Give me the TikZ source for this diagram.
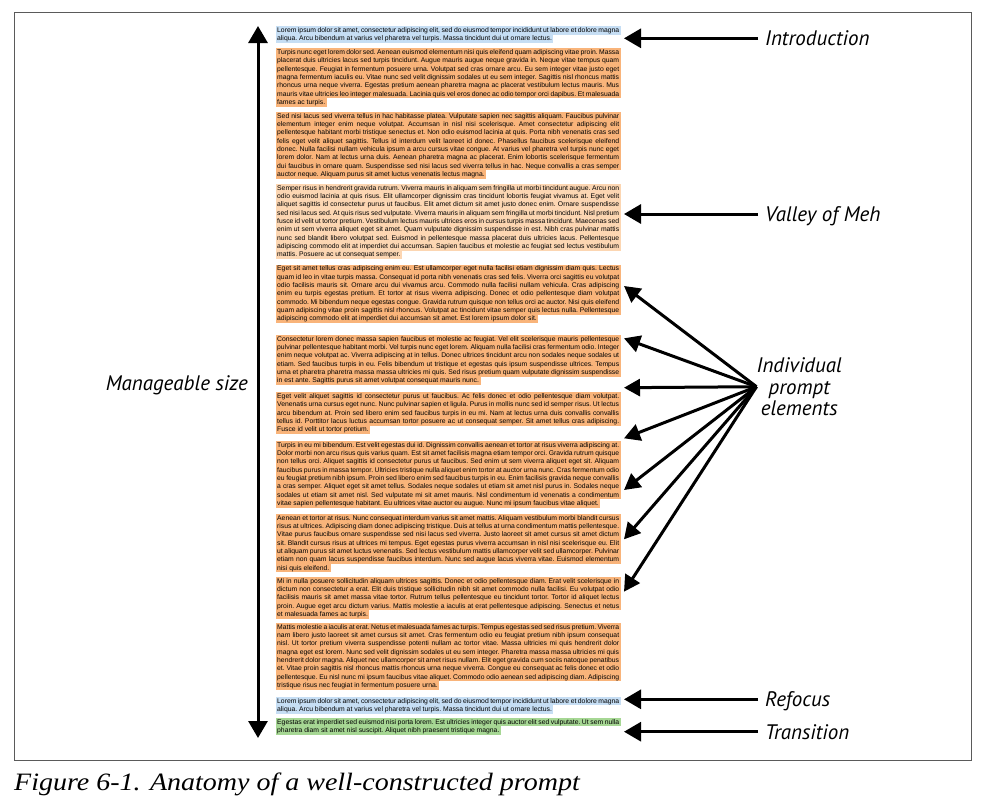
\documentclass[tikz,border=0pt]{standalone}
\usepackage{fontspec}
\setsansfont{Liberation Sans}
\newfontfamily\lblfont{PT Sans}
\newfontfamily\capfont[FakeStretch=1.12]{Liberation Serif}
\usetikzlibrary{arrows.meta,positioning}

\definecolor{hlblue}{RGB}{198,222,244}
\definecolor{hlorange}{RGB}{249,180,122}
\definecolor{hlpeach}{RGB}{252,214,178}
\definecolor{hlgreen}{RGB}{166,215,148}
\definecolor{framegray}{RGB}{90,90,90}

% highlighted paragraph, one coloured bar per line
\newif\iflastline
\newdimen\hlw
\def\dolines#1{%
  \unskip\unpenalty\unskip\unpenalty
  \setbox2=\lastbox
  \ifvoid2 \prevdepth=-1000pt \else
    \iflastline \setbox4=\hbox{\unhcopy2}\hlw=\wd4 \else \hlw=\wd2 \fi
    \global\lastlinefalse
    \begingroup\dolines{#1}\endgroup
    \hbox{\rlap{\hskip-1.5pt\color{#1}\vrule height 6.1pt depth 2.2pt width \dimexpr\hlw+3pt\relax}\box2}%
  \fi}
\newcommand\hlpar[2]{%
  \setbox0=\vbox{\hsize=342pt\parindent=0pt\leftskip=0pt\rightskip=0pt
    \parfillskip=0pt plus 1fil\sffamily\fontsize{6.8}{8.3}\selectfont\frenchspacing
    \hyphenpenalty=10000\emergencystretch=20pt #2\par}%
  \vbox{\baselineskip=8.3pt\lineskip=0pt\lineskiplimit=0pt\global\lastlinetrue
    \unvbox0\dolines{#1}}}

\begin{document}
\begin{tikzpicture}[x=1pt,y=-1pt,
    blk/.style={anchor=north west,inner sep=0pt},
    lbl/.style={font=\lblfont\itshape\fontsize{21}{21.5}\selectfont,inner sep=0pt},
    tag/.style={lbl,anchor=west,inner xsep=7pt,text height=15pt,text depth=0pt},
    arr/.style={-{Triangle[length=17pt,width=19pt]},line width=3pt},
    arrboth/.style={{Triangle[length=17pt,width=19pt]}-{Triangle[length=17pt,width=19pt]},line width=3pt},
    fan/.style={-{Triangle[length=16pt,width=17pt]},line width=3pt}]
    \useasboundingbox (0,0) rectangle (994,804);
    \draw[framegray,line width=1pt] (14,12) rectangle (971,760); % frame

    % prompt text
    \node[blk] (b1) at (277,26) {\hlpar{hlblue}{Lorem ipsum dolor sit amet, consectetur adipiscing elit, sed do eiusmod tempor incididunt ut labore et dolore magna aliqua. Arcu bibendum at varius vel pharetra vel turpis. Massa tincidunt dui ut ornare lectus.}};
    \node[blk] (b2) at (277,48.2) {\hlpar{hlorange}{Turpis nunc eget lorem dolor sed. Aenean euismod elementum nisi quis eleifend quam adipiscing vitae proin. Massa placerat duis ultricies lacus sed turpis tincidunt. Augue mauris augue neque gravida in. Neque vitae tempus quam pellentesque. Feugiat in fermentum posuere urna. Volutpat sed cras ornare arcu. Eu sem integer vitae justo eget magna fermentum iaculis eu. Vitae nunc sed velit dignissim sodales ut eu sem integer. Sagittis nisl rhoncus mattis rhoncus urna neque viverra. Egestas pretium aenean pharetra magna ac placerat vestibulum lectus mauris. Mus mauris vitae ultricies leo integer malesuada. Lacinia quis vel eros donec ac odio tempor orci dapibus. Et malesuada fames ac turpis.}};
    \node[blk] (b3) at (277,111.9) {\hlpar{hlorange}{Sed nisi lacus sed viverra tellus in hac habitasse platea. Vulputate sapien nec sagittis aliquam. Faucibus pulvinar elementum integer enim neque volutpat. Accumsan in nisl nisi scelerisque. Amet consectetur adipiscing elit pellentesque habitant morbi tristique senectus et. Non odio euismod lacinia at quis. Porta nibh venenatis cras sed felis eget velit aliquet sagittis. Tellus id interdum velit laoreet id donec. Phasellus faucibus scelerisque eleifend donec. Nulla facilisi nullam vehicula ipsum a arcu cursus vitae congue. At varius vel pharetra vel turpis nunc eget lorem dolor. Nam at lectus urna duis. Aenean pharetra magna ac placerat. Enim lobortis scelerisque fermentum dui faucibus in ornare quam. Suspendisse sed nisi lacus sed viverra tellus in hac. Neque convallis a cras semper auctor neque. Aliquam purus sit amet luctus venenatis lectus magna.}};
    \node[blk] (b4) at (277,183.9) {\hlpar{hlpeach}{Semper risus in hendrerit gravida rutrum. Viverra mauris in aliquam sem fringilla ut morbi tincidunt augue. Arcu non odio euismod lacinia at quis risus. Elit ullamcorper dignissim cras tincidunt lobortis feugiat vivamus at. Eget velit aliquet sagittis id consectetur purus ut faucibus. Elit amet dictum sit amet justo donec enim. Ornare suspendisse sed nisi lacus sed. At quis risus sed vulputate. Viverra mauris in aliquam sem fringilla ut morbi tincidunt. Nisl pretium fusce id velit ut tortor pretium. Vestibulum lectus mauris ultrices eros in cursus turpis massa tincidunt. Maecenas sed enim ut sem viverra aliquet eget sit amet. Quam vulputate dignissim suspendisse in est. Nibh cras pulvinar mattis nunc sed blandit libero volutpat sed. Euismod in pellentesque massa placerat duis ultricies lacus. Pellentesque adipiscing commodo elit at imperdiet dui accumsan. Sapien faucibus et molestie ac feugiat sed lectus vestibulum mattis. Posuere ac ut consequat semper.}};
    \node[blk] (b5) at (277,264.6) {\hlpar{hlorange}{Eget sit amet tellus cras adipiscing enim eu. Est ullamcorper eget nulla facilisi etiam dignissim diam quis. Lectus quam id leo in vitae turpis massa. Consequat id porta nibh venenatis cras sed felis. Viverra orci sagittis eu volutpat odio facilisis mauris sit. Ornare arcu dui vivamus arcu. Commodo nulla facilisi nullam vehicula. Cras adipiscing enim eu turpis egestas pretium. Et tortor at risus viverra adipiscing. Donec et odio pellentesque diam volutpat commodo. Mi bibendum neque egestas congue. Gravida rutrum quisque non tellus orci ac auctor. Nisi quis eleifend quam adipiscing vitae proin sagittis nisl rhoncus. Volutpat ac tincidunt vitae semper quis lectus nulla. Pellentesque adipiscing commodo elit at imperdiet dui accumsan sit amet. Est lorem ipsum dolor sit.}};
    \node[blk] (b6) at (277,334.9) {\hlpar{hlorange}{Consectetur lorem donec massa sapien faucibus et molestie ac feugiat. Vel elit scelerisque mauris pellentesque pulvinar pellentesque habitant morbi. Vel turpis nunc eget lorem. Aliquam nulla facilisi cras fermentum odio. Integer enim neque volutpat ac. Viverra adipiscing at in tellus. Donec ultrices tincidunt arcu non sodales neque sodales ut etiam. Sed faucibus turpis in eu. Felis bibendum ut tristique et egestas quis ipsum suspendisse ultrices. Tempus urna et pharetra pharetra massa massa ultricies mi quis. Sed risus pretium quam vulputate dignissim suspendisse in est ante. Sagittis purus sit amet volutpat consequat mauris nunc.}};
    \node[blk] (b7) at (277,392.2) {\hlpar{hlorange}{Eget velit aliquet sagittis id consectetur purus ut faucibus. Ac felis donec et odio pellentesque diam volutpat. Venenatis urna cursus eget nunc. Nunc pulvinar sapien et ligula. Purus in mollis nunc sed id semper risus. Ut lectus arcu bibendum at. Proin sed libero enim sed faucibus turpis in eu mi. Nam at lectus urna duis convallis convallis tellus id. Porttitor lacus luctus accumsan tortor posuere ac ut consequat semper. Sit amet tellus cras adipiscing. Fusce id velit ut tortor pretium.}};
    \node[blk] (b8) at (277,440.9) {\hlpar{hlorange}{Turpis in eu mi bibendum. Est velit egestas dui id. Dignissim convallis aenean et tortor at risus viverra adipiscing at. Dolor morbi non arcu risus quis varius quam. Est sit amet facilisis magna etiam tempor orci. Gravida rutrum quisque non tellus orci. Aliquet sagittis id consectetur purus ut faucibus. Sed enim ut sem viverra aliquet eget sit. Aliquam faucibus purus in massa tempor. Ultricies tristique nulla aliquet enim tortor at auctor urna nunc. Cras fermentum odio eu feugiat pretium nibh ipsum. Proin sed libero enim sed faucibus turpis in eu. Enim facilisis gravida neque convallis a cras semper. Aliquet eget sit amet tellus. Sodales neque sodales ut etiam sit amet nisl purus in. Sodales neque sodales ut etiam sit amet nisl. Sed vulputate mi sit amet mauris. Nisl condimentum id venenatis a condimentum vitae sapien pellentesque habitant. Eu ultrices vitae auctor eu augue. Nunc mi ipsum faucibus vitae aliquet.}};
    \node[blk] (b9) at (277,513.9) {\hlpar{hlorange}{Aenean et tortor at risus. Nunc consequat interdum varius sit amet mattis. Aliquam vestibulum morbi blandit cursus risus at ultrices. Adipiscing diam donec adipiscing tristique. Duis at tellus at urna condimentum mattis pellentesque. Vitae purus faucibus ornare suspendisse sed nisi lacus sed viverra. Justo laoreet sit amet cursus sit amet dictum sit. Blandit cursus risus at ultrices mi tempus. Eget egestas purus viverra accumsan in nisl nisi scelerisque eu. Elit ut aliquam purus sit amet luctus venenatis. Sed lectus vestibulum mattis ullamcorper velit sed ullamcorper. Pulvinar etiam non quam lacus suspendisse faucibus interdum. Nunc sed augue lacus viverra vitae. Euismod elementum nisi quis eleifend.}};
    \node[blk] (b10) at (277,576.9) {\hlpar{hlorange}{Mi in nulla posuere sollicitudin aliquam ultrices sagittis. Donec et odio pellentesque diam. Erat velit scelerisque in dictum non consectetur a erat. Elit duis tristique sollicitudin nibh sit amet commodo nulla facilisi. Eu volutpat odio facilisis mauris sit amet massa vitae tortor. Rutrum tellus pellentesque eu tincidunt tortor. Tortor id aliquet lectus proin. Augue eget arcu dictum varius. Mattis molestie a iaculis at erat pellentesque adipiscing. Senectus et netus et malesuada fames ac turpis.}};
    \node[blk] (b11) at (277,622.9) {\hlpar{hlorange}{Mattis molestie a iaculis at erat. Netus et malesuada fames ac turpis. Tempus egestas sed sed risus pretium. Viverra nam libero justo laoreet sit amet cursus sit amet. Cras fermentum odio eu feugiat pretium nibh ipsum consequat nisl. Ut tortor pretium viverra suspendisse potenti nullam ac tortor vitae. Massa ultricies mi quis hendrerit dolor magna eget est lorem. Nunc sed velit dignissim sodales ut eu sem integer. Pharetra massa massa ultricies mi quis hendrerit dolor magna. Aliquet nec ullamcorper sit amet risus nullam. Elit eget gravida cum sociis natoque penatibus et. Vitae proin sagittis nisl rhoncus mattis rhoncus urna neque viverra. Congue eu consequat ac felis donec et odio pellentesque. Eu nisl nunc mi ipsum faucibus vitae aliquet. Commodo odio aenean sed adipiscing diam. Adipiscing tristique risus nec feugiat in fermentum posuere urna.}};
    \node[blk] (b12) at (277,696.9) {\hlpar{hlblue}{Lorem ipsum dolor sit amet, consectetur adipiscing elit, sed do eiusmod tempor incididunt ut labore et dolore magna aliqua. Arcu bibendum at varius vel pharetra vel turpis. Massa tincidunt dui ut ornare lectus.}};
    \node[blk] (b13) at (277,717.9) {\hlpar{hlgreen}{Egestas erat imperdiet sed euismod nisi porta lorem. Est ultricies integer quis auctor elit sed vulputate. Ut sem nulla pharetra diam sit amet nisl suscipit. Aliquet nibh praesent tristique magna.}};

    % size arrow
    \coordinate (szTop) at (258,26);
    \coordinate (szBot) at (258,738);
    \draw[arrboth] (szTop) -- (szBot);
    \node[lbl,anchor=base east] (size) at (248,390) {Manageable size};

    % labels on the right
    \node[tag] (intro) at (758,38.3) {Introduction};
    \node[tag] (meh) at (758,214) {Valley of Meh};
    \node[tag] (refocus) at (758,699.3) {Refocus};
    \node[tag] (trans) at (758,731.7) {Transition};
    \coordinate (introTip) at (624,38.3);
    \coordinate (mehTip) at (624,214);
    \coordinate (refocusTip) at (624,699.3);
    \coordinate (transTip) at (624,731.7);
    \draw[arr] (intro.west) -- (introTip);
    \draw[arr] (meh.west) -- (mehTip);
    \draw[arr] (refocus.west) -- (refocusTip);
    \draw[arr] (trans.west) -- (transTip);

    % individual prompt elements
    \node[lbl,anchor=west,align=center] (elems) at (756.5,386.7) {Individual\\prompt\\elements};
    \foreach \i/\y in {1/286,2/338.3,3/387.7,4/438.3,5/490,6/539.3,7/591.7}
        \coordinate (t\i) at (624,\y);
    \foreach \i in {1,...,7}
        \draw[fan] (elems.west) -- (t\i);

    \node[anchor=base west,inner sep=0pt,font=\capfont\itshape\fontsize{25}{25}\selectfont] (cap) at (14,790) {Figure 6-1. Anatomy of a well-constructed prompt};
\end{tikzpicture}
\end{document}
